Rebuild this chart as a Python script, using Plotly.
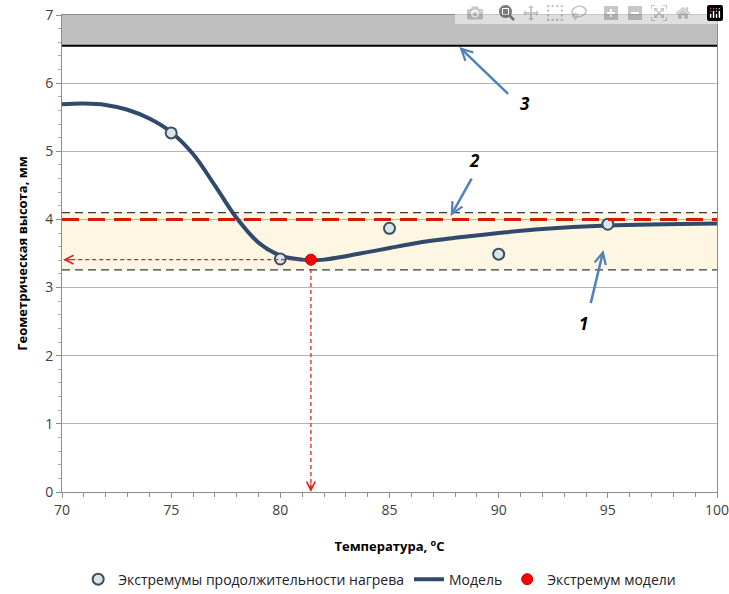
import plotly.graph_objects as go

# ---- data ----
exp_temp = [75, 80, 85, 90, 95]
exp_height = [5.27, 3.42, 3.87, 3.49, 3.93]

model_temp = [70, 71, 72, 73, 74, 75, 76, 77, 78, 79, 80, 81, 81.4, 82, 83, 84, 85, 86, 87, 88, 90, 92, 95, 100]
model_height = [5.69, 5.70, 5.68, 5.61, 5.48, 5.28, 4.96, 4.50, 4.02, 3.66, 3.47, 3.41, 3.40, 3.41, 3.46, 3.52, 3.58, 3.64, 3.69, 3.73, 3.80, 3.86, 3.91, 3.94]

extr_temp = [81.4]
extr_height = [3.41]

band_limits = [3.26, 4.10]      # tolerance band (dashed black)
target_level = [4.0]            # red dashed line
upper_zone = [6.55, 7.0]        # grey zone, black line at bottom

arrow_labels = ["1", "2", "3"]
arrow_heads = [(94.8, 3.55), (87.8, 4.05), (88.2, 6.53)]
arrow_tails = [(94.2, 2.75), (88.8, 4.62), (90.5, 5.82)]
label_pos = [(93.9, 2.48), (88.9, 4.86), (91.2, 5.7)]

FONT = "Open Sans"
fig = go.Figure()

# shapes
shapes = []
shapes.append(dict(type="rect", xref="paper", x0=0, x1=1, yref="y", y0=band_limits[0], y1=band_limits[1],
                   fillcolor="#fdf6e3", line=dict(width=0), layer="below"))
shapes.append(dict(type="rect", xref="paper", x0=0, x1=1, yref="y", y0=upper_zone[0], y1=upper_zone[1],
                   fillcolor="#bfbfbf", line=dict(width=0), layer="below"))
shapes.append(dict(type="line", xref="paper", x0=0, x1=1, yref="y", y0=upper_zone[0], y1=upper_zone[0],
                   line=dict(color="black", width=2)))
for b in band_limits:
    shapes.append(dict(type="line", xref="paper", x0=0, x1=1, yref="y", y0=b, y1=b,
                       line=dict(color="#3a3a3a", width=1.3, dash="8px,5px")))
shapes.append(dict(type="line", xref="paper", x0=0, x1=1, yref="y", y0=target_level[0], y1=target_level[0],
                   line=dict(color="#d01c00", width=3, dash="17px,9px")))
# red dashed guide lines from the model extremum
shapes.append(dict(type="line", x0=70.1, x1=extr_temp[0], y0=extr_height[0], y1=extr_height[0],
                   line=dict(color="#e02020", width=1.3, dash="4px,3px")))
shapes.append(dict(type="line", x0=extr_temp[0], x1=extr_temp[0], y0=0.03, y1=extr_height[0],
                   line=dict(color="#e02020", width=1.3, dash="4px,3px")))

fig.add_trace(go.Scatter(x=model_temp, y=model_height, mode="lines", name="Модель", legendrank=2,
                         line=dict(color="#2f4a6b", width=4, shape="spline", smoothing=1.0)))
fig.add_trace(go.Scatter(x=exp_temp, y=exp_height, mode="markers", legendrank=1,
                         name="Экстремумы продолжительности нагрева",
                         marker=dict(size=11, color="#dde3e6", line=dict(color="#3a4f63", width=2))))
fig.add_trace(go.Scatter(x=extr_temp, y=extr_height, mode="markers", name="Экстремум модели", legendrank=3,
                         marker=dict(size=11, color="#ff0000", line=dict(color="#c00000", width=1))))

annotations = []
for lab, h, t, lp in zip(arrow_labels, arrow_heads, arrow_tails, label_pos):
    annotations.append(dict(x=h[0], y=h[1], ax=t[0], ay=t[1], axref="x", ayref="y", xref="x", yref="y",
                            showarrow=True, arrowhead=5, arrowsize=0.9, arrowwidth=2.5,
                            arrowcolor="#4f81bd", text=""))
    annotations.append(dict(x=lp[0], y=lp[1], xref="x", yref="y", showarrow=False,
                            text="<b><i>%s</i></b>" % lab, font=dict(size=17, color="black", family=FONT)))
# red arrowheads
annotations.append(dict(x=70.05, y=extr_height[0], ax=10, ay=0, xref="x", yref="y", showarrow=True,
                        arrowhead=5, arrowsize=1.3, arrowwidth=1.3, arrowcolor="#e02020", text=""))
annotations.append(dict(x=extr_temp[0], y=0.0, ax=0, ay=-10, xref="x", yref="y", showarrow=True,
                        arrowhead=5, arrowsize=1.3, arrowwidth=1.3, arrowcolor="#e02020", text=""))

fig.update_layout(
    width=729, height=594,
    margin=dict(l=62, r=12, t=15, b=102, autoexpand=False),
    paper_bgcolor="white", plot_bgcolor="white",
    font=dict(family=FONT, size=14, color="#222"),
    shapes=shapes, annotations=annotations,
    showlegend=True,
    legend=dict(orientation="h", x=0.485, xanchor="center", y=-0.15, yanchor="top",
                font=dict(size=14, family=FONT), traceorder="normal"),
    xaxis=dict(range=[70, 100], dtick=5, showgrid=False, showline=True, linecolor="#8c8c8c", linewidth=1,
               mirror=True, ticks="outside", ticklen=5, tickcolor="#8c8c8c", automargin=False,
               ticklabeloverflow="allow",
               minor=dict(dtick=1, ticks="outside", ticklen=4, tickcolor="#8c8c8c"),
               tickfont=dict(size=14, color="#404040"),
               title=dict(text="<b>Температура, <sup>o</sup>C</b>", font=dict(size=13, color="black"), standoff=24),
               zeroline=False),
    yaxis=dict(range=[0, 7], dtick=1, showgrid=True, gridcolor="#b4b4b4", gridwidth=1, automargin=False,
               showline=True, linecolor="#8c8c8c", linewidth=1, mirror=True,
               ticks="outside", ticklen=5, tickcolor="#8c8c8c", ticklabeloverflow="allow",
               minor=dict(dtick=0.2, ticks="outside", ticklen=3, tickcolor="#aaaaaa", showgrid=False),
               tickfont=dict(size=14, color="#404040"),
               title=dict(text="<b>Геометрическая высота, мм</b>", font=dict(size=13, color="black"), standoff=14),
               zeroline=False),
)

# remove the browser's default 8px body margin so the 729x594 figure fills the window exactly
fig.write_html("out.html",
               post_script="document.body.style.margin='0';document.body.style.overflow='hidden';")
